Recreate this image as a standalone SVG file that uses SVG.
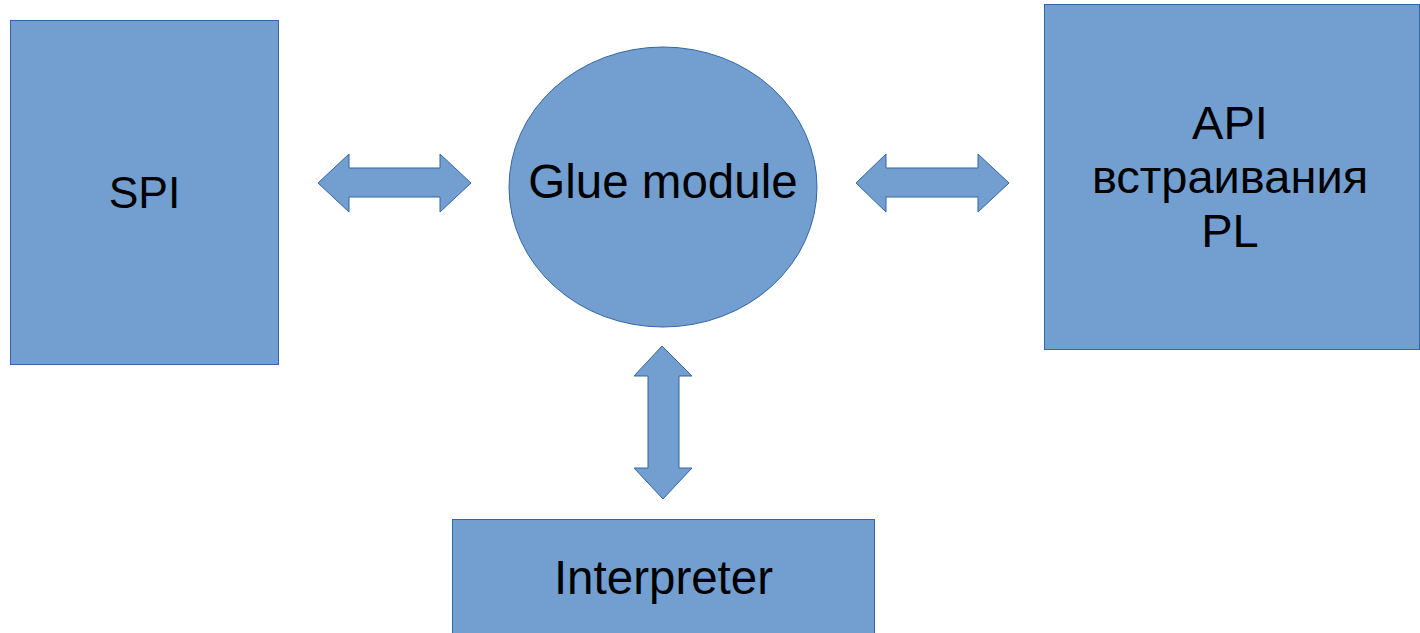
<svg xmlns="http://www.w3.org/2000/svg" width="1420" height="633" viewBox="0 0 1420 633">
<style>
.shape{fill:#729fcf;stroke:#3465a4;stroke-width:1}
.lbl{font-family:"Liberation Sans",Arial,sans-serif;fill:#000;text-anchor:middle}
</style>
<rect x="0" y="0" width="1420" height="633" fill="#ffffff"/>
<g id="spi">
<rect class="shape" x="10.5" y="20.5" width="268" height="344"/>
<text class="lbl" x="144.5" y="208" font-size="44.5">SPI</text>
</g>
<g id="glue">
<ellipse class="shape" cx="663" cy="187" rx="154" ry="140"/>
<text class="lbl" x="663" y="198" font-size="47.5">Glue module</text>
</g>
<g id="api">
<rect class="shape" x="1044.5" y="4.5" width="375" height="345"/>
<text class="lbl" x="1230" y="139" font-size="47">API</text>
<text class="lbl" x="1230" y="193" font-size="47">встраивания</text>
<text class="lbl" x="1230" y="247" font-size="47">PL</text>
</g>
<g id="interpreter">
<rect class="shape" x="452.5" y="519.5" width="422" height="120"/>
<text class="lbl" x="663.5" y="594" font-size="47.5">Interpreter</text>
</g>
<g id="connectors">
<polygon class="shape" points="318,183 349,154 349,168 440,168 440,154 471,183 440,212 440,197 349,197 349,212"/>
<polygon class="shape" points="856,183 886,154 886,168 978,168 978,154 1009,183 978,212 978,197 886,197 886,212"/>
<polygon class="shape" points="662,346 692,376 679,376 679,468 692,468 663,499 634,468 648,468 648,376 634,376"/>
</g>
</svg>
